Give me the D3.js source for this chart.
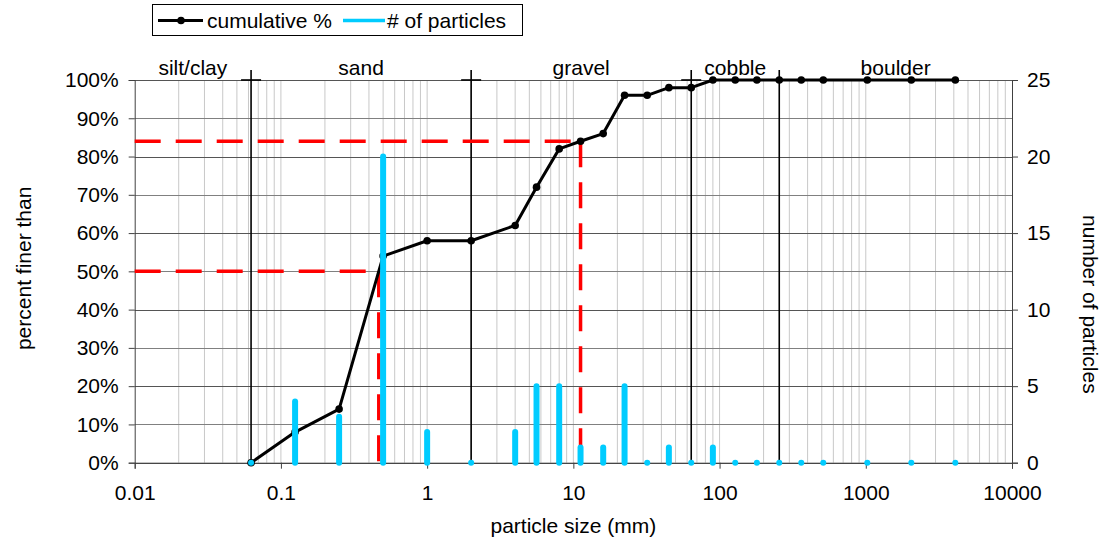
<!DOCTYPE html>
<html><head><meta charset="utf-8">
<script src="https://cdn.jsdelivr.net/npm/d3@7"></script>
<style>body{margin:0;background:#fff} text{font-family:"Liberation Sans",Arial,sans-serif;fill:#000}</style>
</head><body><svg id="c" width="1110" height="543"></svg>
<script>
// ---- data ----
const sizes      = [0.0625,0.125,0.25,0.5,1,2,4,5.6,8,11.2,16,22.4,32,45,64,90,128,180,256,362,512,1024,2048,4096];
const cumulative = [0,8,14,54,58,58,62,72,82,84,86,96,96,98,98,100,100,100,100,100,100,100,100,100];
const counts     = [0,4,3,20,2,0,2,5,5,1,1,5,0,1,0,1,0,0,0,0,0,0,0,0];
const classNames = ["silt/clay","sand","gravel","cobble","boulder"];
const classEdges = [0.01,0.0625,2,64,256,10000];
const crossBars  = [0.0625,2,64];
const xTicks     = [0.01,0.1,1,10,100,1000,10000];
const xTickLabels= ["0.01","0.1","1","10","100","1000","10000"];
const yTicks     = [0,10,20,30,40,50,60,70,80,90,100];
const y2Ticks    = [0,5,10,15,20,25];
const dLines     = [{pct:50,size:0.467},{pct:84,size:11.2}];

// ---- layout ----
const L=134.7, R=1012, T=80, B=462.7;
const svg=d3.select("#c");
const x=d3.scaleLog().domain([0.01,10000]).range([L,R]);
const y=d3.scaleLinear().domain([0,100]).range([B,T]);
const y2=d3.scaleLinear().domain([0,25]).range([B,T]);
const FS=21;

// vertical minor grid
svg.append("g").selectAll("line").data(x.ticks().filter(v=>v>0.0100001&&v<9999))
 .join("line").attr("x1",d=>x(d)).attr("x2",d=>x(d)).attr("y1",T).attr("y2",B)
 .attr("stroke","#c8c8c8").attr("stroke-width",1);
// horizontal grid
svg.append("g").selectAll("line").data(yTicks)
 .join("line").attr("x1",L).attr("x2",R).attr("y1",d=>Math.round(y(d))+0.5).attr("y2",d=>Math.round(y(d))+0.5)
 .attr("stroke",d=>d%20===0?"#555":"#808080").attr("stroke-width",1);

// axes
const gl=svg.append("g").attr("transform",`translate(${L},0)`)
 .call(d3.axisLeft(y).tickValues(yTicks).tickFormat(d=>d+"%").tickSize(6).tickPadding(10));
const gr=svg.append("g").attr("transform",`translate(${R},0)`)
 .call(d3.axisRight(y2).tickValues(y2Ticks).tickSize(6).tickPadding(9));
const gb=svg.append("g").attr("transform",`translate(0,${B})`)
 .call(d3.axisBottom(x).tickValues(xTicks).tickFormat((d,i)=>xTickLabels[i]).tickSize(6).tickPadding(16));
[gl,gr,gb].forEach(g=>{
  g.selectAll("path").attr("stroke","#404040");
  g.selectAll("line").attr("stroke","#404040");
  g.selectAll("text").attr("font-size",FS).attr("font-family","Liberation Sans, Arial, sans-serif").attr("fill","#000");
});

// class boundaries
const cb=svg.append("g");
cb.selectAll("line.v").data(classEdges.slice(1,-1)).join("line")
 .attr("x1",d=>x(d)).attr("x2",d=>x(d)).attr("y1",70).attr("y2",B)
 .attr("stroke","#000").attr("stroke-width",1.6);
cb.selectAll("line.h").data(crossBars).join("line")
 .attr("x1",d=>x(d)-10).attr("x2",d=>x(d)+10).attr("y1",T).attr("y2",T)
 .attr("stroke","#000").attr("stroke-width",1.6);
cb.selectAll("text").data(classNames).join("text")
 .attr("x",(d,i)=>(x(classEdges[i])+x(classEdges[i+1]))/2).attr("y",75)
 .attr("text-anchor","middle").attr("font-size",FS).text(d=>d);

// D50 / D84 dashed lines
const dl=svg.append("g");
dLines.forEach(o=>{
  dl.append("line").attr("x1",L).attr("x2",x(o.size)).attr("y1",y(o.pct)).attr("y2",y(o.pct))
    .attr("stroke","#ff0000").attr("stroke-width",3.5).attr("stroke-dasharray","26,15");
  dl.append("line").attr("x1",x(o.size)).attr("x2",x(o.size)).attr("y1",y(o.pct)).attr("y2",B)
    .attr("stroke","#ff0000").attr("stroke-width",3.5).attr("stroke-dasharray","26,15");
});

// cumulative line
const pts=sizes.map((s,i)=>[s,cumulative[i]]);
svg.append("path").datum(pts).attr("fill","none").attr("stroke","#000").attr("stroke-width",3)
 .attr("stroke-linejoin","round")
 .attr("d",d3.line().x(d=>x(d[0])).y(d=>y(d[1])));
svg.append("g").selectAll("circle").data(pts).join("circle")
 .attr("cx",d=>x(d[0])).attr("cy",d=>y(d[1])).attr("r",3.8).attr("fill","#000");

// particle counts
const bars=sizes.map((s,i)=>[s,counts[i]]);
svg.append("g").selectAll("line").data(bars.filter(d=>d[1]>0)).join("line")
 .attr("x1",d=>x(d[0])).attr("x2",d=>x(d[0])).attr("y1",y2(0)).attr("y2",d=>y2(d[1]))
 .attr("stroke","#00ccff").attr("stroke-width",6).attr("stroke-linecap","round");
svg.append("g").selectAll("circle").data(bars.filter(d=>d[1]===0)).join("circle")
 .attr("cx",d=>x(d[0])).attr("cy",y2(0)).attr("r",3).attr("fill","#00ccff");

// axis titles
svg.append("text").attr("transform",`translate(31,${(T+B)/2-3}) rotate(-90)`)
 .attr("text-anchor","middle").attr("font-size",FS).text("percent finer than");
svg.append("text").attr("transform",`translate(1083,${(T+B)/2+33}) rotate(90)`)
 .attr("text-anchor","middle").attr("font-size",FS).text("number of particles");
svg.append("text").attr("x",(L+R)/2).attr("y",533)
 .attr("text-anchor","middle").attr("font-size",FS).text("particle size (mm)");

// legend
const lg=svg.append("g");
lg.append("rect").attr("x",152.5).attr("y",4.5).attr("width",370).attr("height",31)
 .attr("fill","#fff").attr("stroke","#000").attr("stroke-width",1);
lg.append("line").attr("x1",158).attr("x2",203).attr("y1",20.5).attr("y2",20.5).attr("stroke","#000").attr("stroke-width",3);
lg.append("circle").attr("cx",181).attr("cy",20.5).attr("r",3.8).attr("fill","#000");
lg.append("text").attr("x",207).attr("y",27.5).attr("font-size",FS).text("cumulative %");
lg.append("line").attr("x1",343).attr("x2",385).attr("y1",20.5).attr("y2",20.5).attr("stroke","#00ccff").attr("stroke-width",3.5);
lg.append("text").attr("x",387).attr("y",27.5).attr("font-size",FS).text("# of particles");
</script></body></html>
